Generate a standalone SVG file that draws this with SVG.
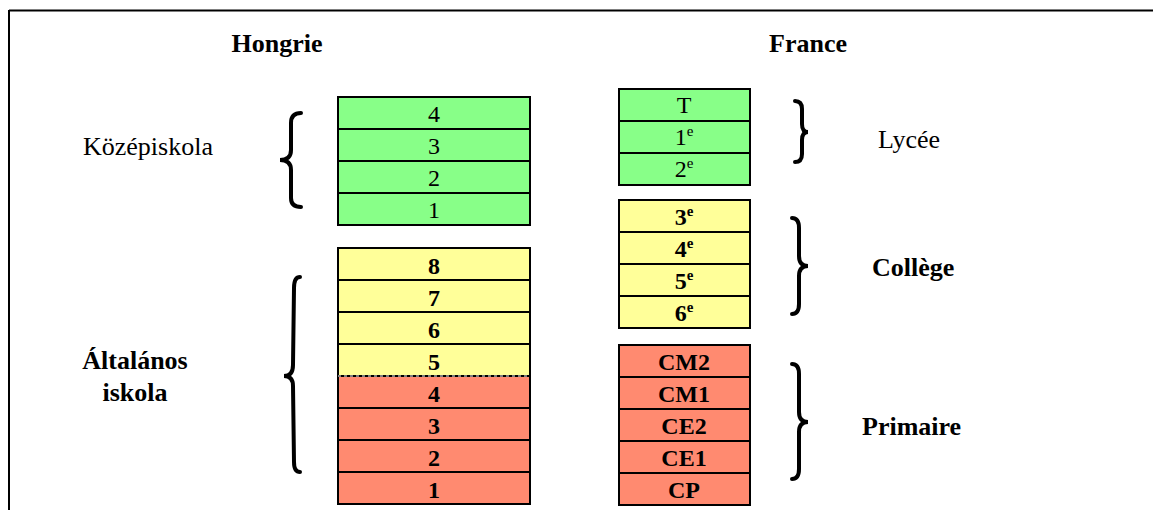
<svg xmlns="http://www.w3.org/2000/svg" width="1153" height="510" viewBox="0 0 1153 510">
<style>
text{font-family:"Liberation Serif","Times New Roman",serif;fill:#000;}
.t{font-size:24px;text-anchor:middle;}
.b{font-weight:bold;}
.h{font-size:26px;font-weight:bold;text-anchor:middle;}
.l{font-size:26px;}
.g{fill:#88ff88;stroke:#000;stroke-width:2;}
.y{fill:#ffff99;stroke:#000;stroke-width:2;}
.r{fill:#ff8a70;stroke:#000;stroke-width:2;}
.br{fill:none;stroke:#000;stroke-width:4;stroke-linecap:round;}
.s{font-size:15px;}
</style>
<g id="frame">
<line x1="9" y1="10.5" x2="1153" y2="10.5" stroke="#000" stroke-width="2"/>
<line x1="9" y1="10" x2="9" y2="510" stroke="#000" stroke-width="2"/>
</g>
<g id="titles">
<text class="h" x="277" y="52">Hongrie</text>
<text class="h" x="808" y="52">France</text>
</g>
<g id="hu-kozep">
<rect class="g" x="338" y="97" width="192" height="32"/>
<rect class="g" x="338" y="129" width="192" height="32"/>
<rect class="g" x="338" y="161" width="192" height="32"/>
<rect class="g" x="338" y="193" width="192" height="32"/>
<text class="t" x="434" y="122">4</text>
<text class="t" x="434" y="154">3</text>
<text class="t" x="434" y="186">2</text>
<text class="t" x="434" y="218">1</text>
</g>
<g id="hu-altalanos">
<rect class="y" x="338" y="248" width="192" height="32"/>
<rect class="y" x="338" y="280" width="192" height="32"/>
<rect class="y" x="338" y="312" width="192" height="32"/>
<rect class="y" x="338" y="344" width="192" height="32"/>
<rect class="r" x="338" y="376" width="192" height="32"/>
<rect class="r" x="338" y="408" width="192" height="32"/>
<rect class="r" x="338" y="440" width="192" height="32"/>
<rect class="r" x="338" y="472" width="192" height="32"/>
<line x1="338" y1="376" x2="530" y2="376" stroke="#fff" stroke-width="1" stroke-dasharray="3 3"/>
<text class="t b" x="434" y="274">8</text>
<text class="t b" x="434" y="306">7</text>
<text class="t b" x="434" y="338">6</text>
<text class="t b" x="434" y="370">5</text>
<text class="t b" x="434" y="402">4</text>
<text class="t b" x="434" y="434">3</text>
<text class="t b" x="434" y="466">2</text>
<text class="t b" x="434" y="498">1</text>
</g>
<g id="fr-lycee">
<rect class="g" x="619" y="89" width="131" height="32"/>
<rect class="g" x="619" y="121" width="131" height="32"/>
<rect class="g" x="619" y="153" width="131" height="32"/>
<text class="t" x="684" y="113">T</text>
<text class="t" x="684" y="145">1<tspan class="s" dy="-9">e</tspan></text>
<text class="t" x="684" y="177">2<tspan class="s" dy="-9">e</tspan></text>
</g>
<g id="fr-college">
<rect class="y" x="619" y="200" width="131" height="32"/>
<rect class="y" x="619" y="232" width="131" height="32"/>
<rect class="y" x="619" y="264" width="131" height="32"/>
<rect class="y" x="619" y="296" width="131" height="32"/>
<text class="t b" x="684" y="225">3<tspan class="s" dy="-9">e</tspan></text>
<text class="t b" x="684" y="257">4<tspan class="s" dy="-9">e</tspan></text>
<text class="t b" x="684" y="289">5<tspan class="s" dy="-9">e</tspan></text>
<text class="t b" x="684" y="321">6<tspan class="s" dy="-9">e</tspan></text>
</g>
<g id="fr-primaire">
<rect class="r" x="619" y="345" width="131" height="32"/>
<rect class="r" x="619" y="377" width="131" height="32"/>
<rect class="r" x="619" y="409" width="131" height="32"/>
<rect class="r" x="619" y="441" width="131" height="32"/>
<rect class="r" x="619" y="473" width="131" height="32"/>
<text class="t b" x="684" y="370">CM2</text>
<text class="t b" x="684" y="402">CM1</text>
<text class="t b" x="684" y="434">CE2</text>
<text class="t b" x="684" y="466">CE1</text>
<text class="t b" x="684" y="498">CP</text>
</g>
<g id="braces">
<path class="br" d="M301,113 Q291,113 291,123 L291,150 Q291,160 280,160 Q291,160 291,170 L291,198 Q291,207 301,207"/>
<path class="br" d="M300,277 Q294,277 294,288 L293,365 Q293,376 284,376 Q293,376 293,386 L294,462 Q294,472 300,472"/>
<path class="br" d="M795,101 Q802,101 802,109 L802,124 Q802,132 808,132 Q802,132 802,140 L802,154 Q802,162 795,162"/>
<path class="br" d="M792,218 Q799,218 799,228 L799,256 Q799,266 808,266 Q799,266 799,276 L799,304 Q799,314 792,314"/>
<path class="br" d="M792,364 Q799,364 799,374 L799,412 Q799,422 808,422 Q799,422 799,432 L799,469 Q799,479 792,479"/>
</g>
<g id="labels">
<text class="l" x="83" y="155">Középiskola</text>
<text class="l" x="878" y="148">Lycée</text>
<text class="l b" x="872" y="276">Collège</text>
<text class="l b" x="862" y="435">Primaire</text>
<text class="l b" x="135" y="369" text-anchor="middle">Általános</text>
<text class="l b" x="135" y="401" text-anchor="middle">iskola</text>
</g>
</svg>
